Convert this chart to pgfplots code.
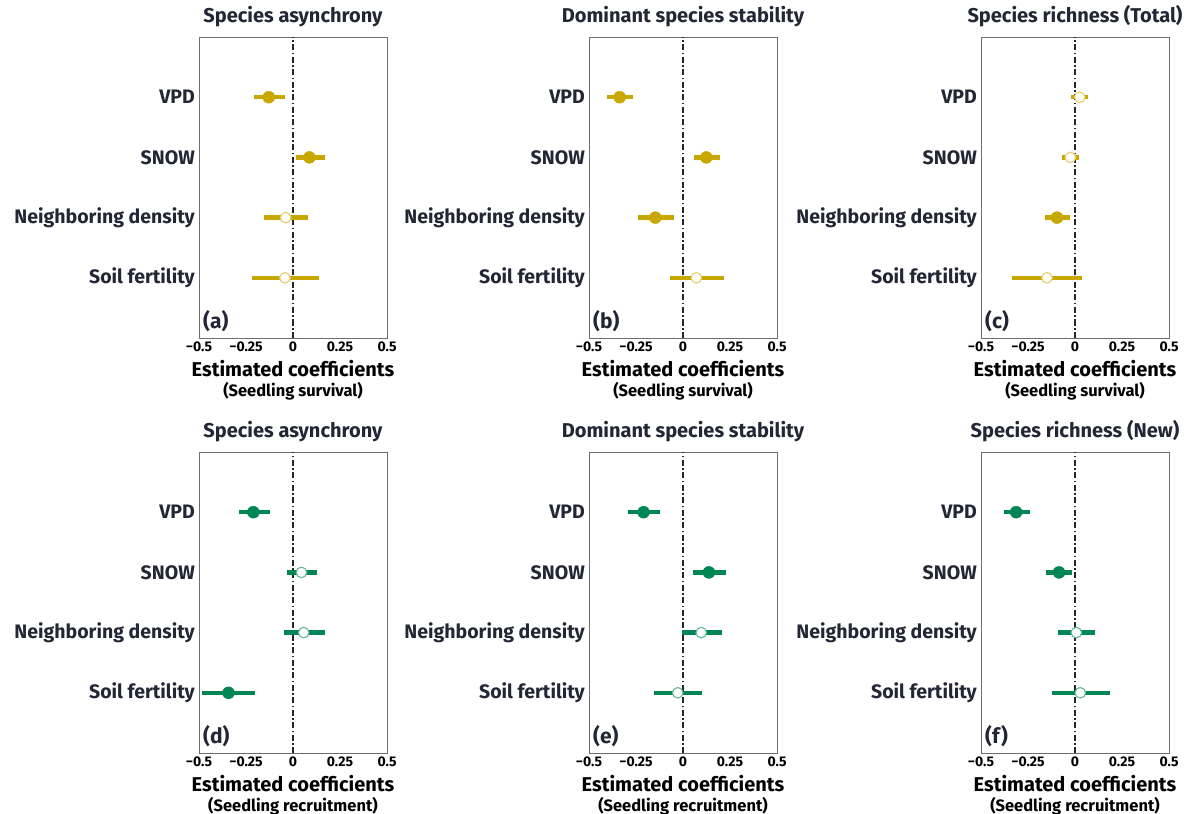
\documentclass[border=0pt]{standalone}
\usepackage{fontspec}
\setmainfont{Fira Sans}
\usepackage{pgfplots}
\usepackage{pgfplotstable}
\pgfplotsset{compat=1.18}

\definecolor{gold}{RGB}{200,168,0}
\definecolor{goldl}{RGB}{230,205,110}
\definecolor{grn}{RGB}{0,134,84}
\definecolor{grnl}{RGB}{100,185,150}
\definecolor{txt}{RGB}{35,38,52}
\definecolor{frm}{RGB}{110,110,110}

\pgfplotstableread{
y est lo hi sig
4 -0.129 -0.205 -0.043 1
3 0.0875 0.014 0.171 1
2 -0.039 -0.155 0.079 0
1 -0.043 -0.220 0.139 0
}\tA
\pgfplotstableread{
y est lo hi sig
4 -0.337 -0.402 -0.266 1
3 0.124 0.060 0.199 1
2 -0.147 -0.239 -0.050 1
1 0.071 -0.071 0.220 0
}\tB
\pgfplotstableread{
y est lo hi sig
4 0.025 -0.020 0.068 0
3 -0.025 -0.068 0.020 0
2 -0.096 -0.160 -0.028 1
1 -0.149 -0.334 0.037 0
}\tC
\pgfplotstableread{
y est lo hi sig
4 -0.211 -0.289 -0.125 1
3 0.045 -0.030 0.130 0
2 0.057 -0.048 0.168 0
1 -0.343 -0.482 -0.204 1
}\tD
\pgfplotstableread{
y est lo hi sig
4 -0.210 -0.293 -0.120 1
3 0.138 0.055 0.228 1
2 0.097 -0.005 0.210 0
1 -0.028 -0.155 0.099 0
}\tE
\pgfplotstableread{
y est lo hi sig
4 -0.313 -0.379 -0.242 1
3 -0.085 -0.155 -0.018 1
2 0.007 -0.089 0.107 0
1 0.028 -0.125 0.185 0
}\tF

\pgfplotsset{
 coefax/.style={
  width=188pt, height=301pt, scale only axis,
  xmin=-0.5, xmax=0.5, ymin=0, ymax=5,
  xtick={-0.5,-0.25,0,0.25,0.5},
  xticklabels={−0.5,−0.25,0,0.25,0.5},
  ytick={1,2,3,4},
  yticklabels={Soil fertility,Neighboring density,SNOW,VPD},
  major tick length=0pt,
  axis line style={frm, line width=0.9pt},
  xticklabel style={font=\bfseries\fontsize{14}{16}\selectfont, text=black},
  yticklabel style={font=\bfseries\fontsize{19.5}{22}\selectfont, text=txt, inner sep=0pt, xshift=-4pt},
  title style={font=\bfseries\fontsize{20}{23}\selectfont, text=txt, at={(0.5,1)}, anchor=base, yshift=9pt},
  xlabel style={font=\bfseries\fontsize{20}{23}\selectfont, align=center, text=black,
     at={(rel axis cs:0.5,0)}, anchor=north, inner sep=0pt, yshift=-22pt},
  clip=false,
 },
}

\newcommand\panel[8]{%
\begin{axis}[coefax, at={(#1pt,-#2pt)}, anchor=north west, title={#6},
 xlabel={Estimated coefficients\\[-3pt]{\fontsize{16.5}{19}\selectfont (Seedling #8)}}]
 \addplot[black!85, line width=1.2pt, dash pattern=on 6pt off 2.5pt on 1.5pt off 2.5pt] coordinates {(0,0) (0,5)};
 \addplot[only marks, mark=none, error bars/.cd, x dir=both, x explicit, error mark=none,
   error bar style={line width=4.4pt, draw=#4}]
   table[x=est, y=y, x error plus expr=\thisrow{hi}-\thisrow{est}, x error minus expr=\thisrow{est}-\thisrow{lo}] {#3};
 \addplot[only marks, mark=*, mark size=6pt, mark options={fill=#4, draw=#4},
   restrict expr to domain={\thisrow{sig}}{0.5:1.5}] table[x=est, y=y] {#3};
 \addplot[only marks, mark=*, mark size=5.3pt, mark options={fill=white, draw=#5, line width=1.1pt},
   restrict expr to domain={\thisrow{sig}}{-0.5:0.5}] table[x=est, y=y] {#3};
 \node[anchor=south west, inner sep=0pt, font=\bfseries\fontsize{21}{24}\selectfont, text=txt] at ([shift={(4pt,6pt)}]rel axis cs:0,0) {(#7)};
\end{axis}}

\begin{document}
\begin{tikzpicture}
\useasboundingbox (0,0) rectangle (1189pt,-814pt);
\panel{199}{37}{\tA}{gold}{goldl}{Species asynchrony}{a}{survival}
\panel{589}{37}{\tB}{gold}{goldl}{Dominant species stability}{b}{survival}
\panel{981}{37}{\tC}{gold}{goldl}{Species richness (Total)}{c}{survival}
\panel{199}{452}{\tD}{grn}{grnl}{Species asynchrony}{d}{recruitment}
\panel{589}{452}{\tE}{grn}{grnl}{Dominant species stability}{e}{recruitment}
\panel{981}{452}{\tF}{grn}{grnl}{Species richness (New)}{f}{recruitment}
\end{tikzpicture}
\end{document}
